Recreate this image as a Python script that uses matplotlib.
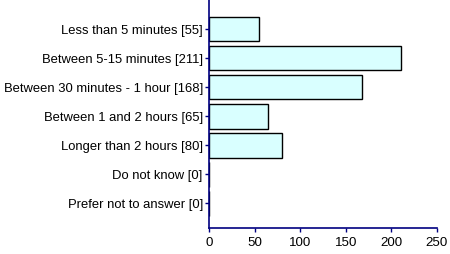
import matplotlib
matplotlib.use("Agg")
import matplotlib.pyplot as plt

categories = [
    "Less than 5 minutes [55]",
    "Between 5-15 minutes [211]",
    "Between 30 minutes - 1 hour [168]",
    "Between 1 and 2 hours [65]",
    "Longer than 2 hours [80]",
    "Do not know [0]",
    "Prefer not to answer [0]",
]
counts = [55, 211, 168, 65, 80, 0, 0]
x_ticks = [0, 50, 100, 150, 200, 250]

plt.rcParams["font.family"] = ["Liberation Sans", "DejaVu Sans"]

fig = plt.figure(figsize=(4.5, 2.54), dpi=100)
ax = fig.add_axes([209 / 450, 26 / 254, 228 / 450, 228 / 254])

pos = list(range(len(categories)))
ax.barh(pos, counts, height=0.86, color="#D9FFFF", edgecolor="black", linewidth=1.0)

ax.set_xlim(0, 250)
ax.set_ylim(6.86, -1.0)
ax.set_yticks(pos)
ax.set_yticklabels(categories, fontsize=9.4)
ax.set_xticks(x_ticks)
ax.set_xticklabels([str(t) for t in x_ticks], fontsize=9.6)

navy = "#000080"
for side in ("top", "right"):
    ax.spines[side].set_visible(False)
for side in ("left", "bottom"):
    ax.spines[side].set_color(navy)
    ax.spines[side].set_linewidth(1.2)
    ax.spines[side].set_zorder(3)
ax.tick_params(axis="both", colors=navy, labelcolor="black", length=3, width=1)
ax.tick_params(axis="y", pad=1.5)
ax.tick_params(axis="x", pad=3.5)

fig.savefig("out.png", dpi=100)
